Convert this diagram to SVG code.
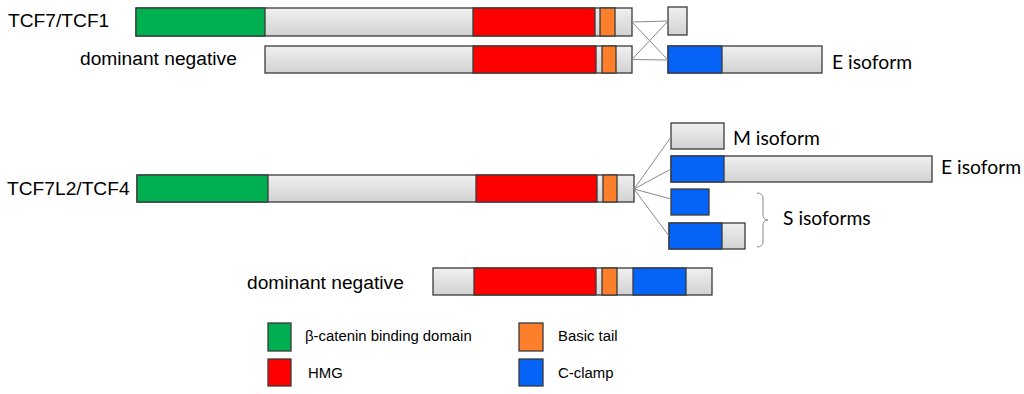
<svg xmlns="http://www.w3.org/2000/svg" width="1024" height="394" viewBox="0 0 1024 394">
<defs>
<linearGradient id="gr" x1="0" y1="0" x2="0" y2="1">
<stop offset="0" stop-color="#f0f0f0"/>
<stop offset="1" stop-color="#d2d2d2"/>
</linearGradient>
<style>
rect{stroke:#3a3a3a;stroke-width:1.3}
.g{fill:url(#gr)}
.gn{fill:#00b050}
.rd{fill:#ff0000}
.or{fill:#fd7f2c}
.bl{fill:#0563f8}
.ar{font-family:"Liberation Sans",Arial,sans-serif;font-size:19.2px;fill:#000}
.cb{font-family:Lato,"Open Sans",sans-serif;font-size:19.3px;fill:#000}
.lg{font-family:"Liberation Sans",Arial,sans-serif;font-size:14.9px;fill:#000}
.ln{stroke:#8a8a8a;stroke-width:1;fill:none}
</style>
</defs>
<rect width="1024" height="394" fill="#fff" style="stroke:none"/>

<g id="tcf7">
<text class="ar" x="8" y="27">TCF7/TCF1</text>
<rect class="g" x="136" y="8" width="496" height="28"/>
<rect class="gn" x="136" y="8" width="129" height="28"/>
<rect class="rd" x="473" y="8" width="122" height="28"/>
<rect class="or" x="600" y="8" width="15" height="28"/>
</g>

<g id="tcf7-dn">
<text class="ar" x="80" y="65">dominant negative</text>
<rect class="g" x="265" y="46" width="367" height="27"/>
<rect class="rd" x="473" y="46" width="123" height="27"/>
<rect class="or" x="602" y="46" width="14" height="27"/>
</g>

<g id="tcf7-short">
<rect class="g" x="668" y="7" width="19" height="28"/>
</g>

<g id="tcf7-e">
<rect class="g" x="668" y="46" width="154" height="27"/>
<rect class="bl" x="668" y="46" width="54" height="27"/>
<text class="cb" x="832" y="69">E isoform</text>
</g>

<g id="tcf4">
<text class="ar" x="7" y="195">TCF7L2/TCF4</text>
<rect class="g" x="137" y="175" width="497" height="27"/>
<rect class="gn" x="137" y="175" width="131" height="27"/>
<rect class="rd" x="476" y="175" width="121" height="27"/>
<rect class="or" x="603" y="175" width="14" height="27"/>
</g>

<g id="tcf4-m">
<rect class="g" x="671" y="123" width="53" height="26"/>
<text class="cb" x="733" y="145">M isoform</text>
</g>

<g id="tcf4-e">
<rect class="g" x="671" y="156" width="261" height="26"/>
<rect class="bl" x="671" y="156" width="53" height="26"/>
<text class="cb" x="941" y="174">E isoform</text>
</g>

<g id="tcf4-s1">
<rect class="bl" x="671" y="189" width="38" height="26"/>
</g>

<g id="tcf4-s2">
<rect class="g" x="669" y="223" width="76" height="26"/>
<rect class="bl" x="669" y="223" width="53" height="26"/>
</g>

<g id="s-brace">
<path class="ln" d="M757,193 Q763,193 763,199 L763,214 Q763,220 768,220 Q763,220 763,226 L763,241 Q763,247 757,247"/>
<text class="cb" x="783" y="225">S isoforms</text>
</g>

<g id="tcf4-dn">
<text class="ar" x="247" y="289">dominant negative</text>
<rect class="g" x="433" y="268" width="279" height="27"/>
<rect class="rd" x="474" y="268" width="122" height="27"/>
<rect class="or" x="602" y="268" width="15" height="27"/>
<rect class="bl" x="633" y="268" width="53" height="27"/>
</g>

<g id="connectors">
<line class="ln" x1="632" y1="22" x2="668" y2="21"/>
<line class="ln" x1="632" y1="22" x2="668" y2="60"/>
<line class="ln" x1="632" y1="59.5" x2="668" y2="21"/>
<line class="ln" x1="632" y1="59.5" x2="668" y2="60"/>
<line class="ln" x1="634" y1="189" x2="671" y2="137"/>
<line class="ln" x1="634" y1="189" x2="671" y2="169"/>
<line class="ln" x1="634" y1="189" x2="671" y2="199"/>
<line class="ln" x1="634" y1="189" x2="669" y2="236"/>
</g>

<g id="legend">
<rect class="gn" x="268" y="323" width="23" height="28"/>
<text class="lg" x="305" y="341">β-catenin binding domain</text>
<rect class="rd" x="268" y="359" width="23" height="27"/>
<text class="lg" x="308" y="378">HMG</text>
<rect class="or" x="519" y="323" width="24" height="28"/>
<text class="lg" x="558" y="341">Basic tail</text>
<rect class="bl" x="519" y="359" width="24" height="27"/>
<text class="lg" x="558" y="378">C-clamp</text>
</g>
</svg>
